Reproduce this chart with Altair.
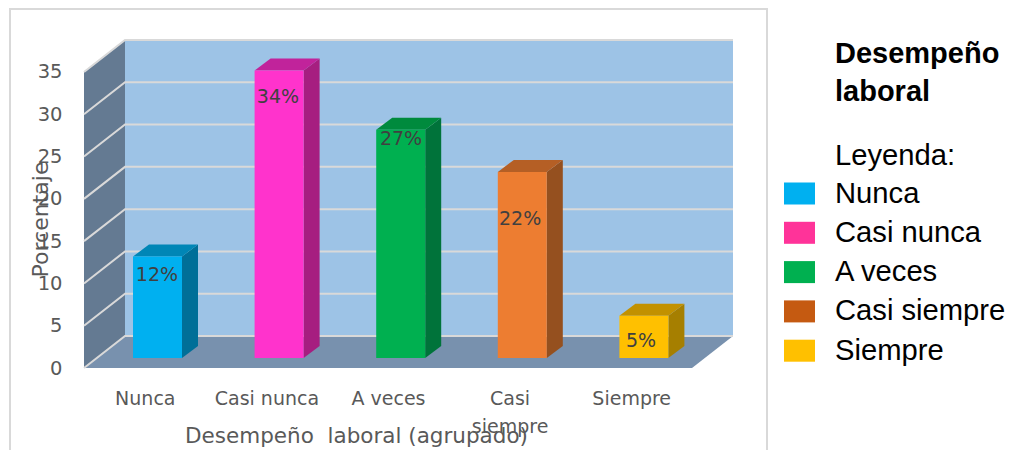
import json
import altair as alt
import pandas as pd

# ---- values ----
categories = ["Nunca", "Casi nunca", "A veces", "Casi siempre", "Siempre"]
axis_labels = ["Nunca", "Casi nunca", "A veces", ["Casi", "siempre"], "Siempre"]
percent = [12, 34, 27, 22, 5]
label_text = ["12%", "34%", "27%", "22%", "5%"]
label_x = [0.600, 1.595, 2.607, 3.586, 4.581]
label_y = [11.0, 32.0, 27.1, 17.6, 3.2]
front_colors = ["#00B0F0", "#FF33CC", "#00B050", "#ED7D31", "#FFC000"]
top_colors = ["#0086B6", "#C1239B", "#008A3D", "#B55F25", "#C29100"]
side_colors = ["#006F98", "#A61E80", "#00733A", "#95501F", "#A67F00"]
legend_colors = ["#00B0F0", "#FF3399", "#00B050", "#C55A11", "#FFC000"]
y_ticks = [0, 5, 10, 15, 20, 25, 30, 35]

# ---- 3-D projection, in data units ----
PX_X, PX_Y = 121.6, 8.46
WALL_DX, WALL_DY = 41 / PX_X, 32 / PX_Y
BAR_LEFT, BAR_W = 49 / PX_X, 49 / PX_X
BAR_DX, BAR_DY = 16 / PX_X, 12 / PX_Y
BAR_BASE = 10 / PX_Y
N = len(categories)
X_MAX, Y_MAX = N + WALL_DX, 35 + WALL_DY

x_scale = alt.Scale(domain=[0, X_MAX], nice=False, zero=False)
y_scale = alt.Scale(domain=[0, Y_MAX], nice=False, zero=False)

label_expr = "%s[round(datum.value - 0.5)]" % json.dumps(axis_labels)
x_axis = alt.Axis(
    values=[i + 0.5 for i in range(N)], labelExpr=label_expr, domain=False, ticks=False, grid=False,
    labelFont="DejaVu Sans", labelFontSize=19, labelColor="#595959", labelPadding=21, labelLineHeight=28,
    labelAngle=0, labelOverlap=False, labelFlush=False, labelBound=False,
    title="Desempeño\u00a0 laboral (agrupado)", titleFont="DejaVu Sans", titleFontSize=21.5, titleFontWeight="normal",
    titleColor="#595959", titleX=272, titleY=74, titleAnchor="middle", titleBaseline="alphabetic")
y_axis = alt.Axis(
    values=y_ticks, domain=False, ticks=False, grid=False, labelFont="DejaVu Sans", labelFontSize=19.5,
    labelColor="#595959", labelPadding=22,
    title="Porcentaje", titleFont="DejaVu Sans", titleFontSize=22, titleFontWeight="normal",
    titleColor="#595959", titleX=-37, titleY=179, titleAngle=-90, titleAnchor="middle", titleBaseline="alphabetic")

X = alt.X("x:Q", scale=x_scale, axis=x_axis)
Y = alt.Y("y:Q", scale=y_scale, axis=y_axis, stack=None)

wall_back = alt.Chart(pd.DataFrame([{"x": WALL_DX, "x2": X_MAX, "y": WALL_DY, "y2": Y_MAX}])).mark_rect(color="#9DC3E6").encode(
    x=X, x2="x2:Q", y=Y, y2="y2:Q")
wall_left = alt.Chart(pd.DataFrame([
    {"x": 0, "y": 0, "y2": 35},
    {"x": WALL_DX, "y": WALL_DY, "y2": Y_MAX}])).mark_area(color="#647A92", opacity=1).encode(x=X, y=Y, y2="y2:Q")
floor = alt.Chart(pd.DataFrame([
    {"x": 0, "y": 0, "y2": 0},
    {"x": WALL_DX, "y": 0, "y2": WALL_DY},
    {"x": N, "y": 0, "y2": WALL_DY},
    {"x": X_MAX, "y": WALL_DY, "y2": WALL_DY}])).mark_area(color="#7891AE", opacity=1).encode(x=X, y=Y, y2="y2:Q")

grid_rows = []
for t in y_ticks:
    grid_rows += [{"t": t, "x": 0, "y": t}, {"t": t, "x": WALL_DX, "y": t + WALL_DY}, {"t": t, "x": X_MAX, "y": t + WALL_DY}]
grid = alt.Chart(pd.DataFrame(grid_rows)).mark_line(color="#D9D9D9", strokeWidth=2).encode(x=X, y=Y, detail="t:N")

front_rows, side_rows, top_rows = [], [], []
for i, (c, v) in enumerate(zip(categories, percent)):
    a = i + BAR_LEFT
    b = a + BAR_W
    base, top = BAR_BASE, BAR_BASE + v
    front_rows.append({"c": c, "x": a, "x2": b, "y": base, "y2": top, "f": front_colors[i]})
    side_rows += [{"c": c, "x": b, "y": base, "y2": top, "f": side_colors[i]},
                  {"c": c, "x": b + BAR_DX, "y": base + BAR_DY, "y2": top + BAR_DY, "f": side_colors[i]}]
    top_rows += [{"c": c, "x": a, "y": top, "y2": top, "f": top_colors[i]},
                 {"c": c, "x": a + BAR_DX, "y": top, "y2": top + BAR_DY, "f": top_colors[i]},
                 {"c": c, "x": b, "y": top, "y2": top + BAR_DY, "f": top_colors[i]},
                 {"c": c, "x": b + BAR_DX, "y": top + BAR_DY, "y2": top + BAR_DY, "f": top_colors[i]}]

FILL = alt.Fill("f:N", scale=None, legend=None)
bar_side = alt.Chart(pd.DataFrame(side_rows)).mark_area(opacity=1).encode(x=X, y=Y, y2="y2:Q", fill=FILL, detail="c:N")
bar_top = alt.Chart(pd.DataFrame(top_rows)).mark_area(opacity=1).encode(x=X, y=Y, y2="y2:Q", fill=FILL, detail="c:N")
bar_front = alt.Chart(pd.DataFrame(front_rows)).mark_rect().encode(x=X, x2="x2:Q", y=Y, y2="y2:Q", fill=FILL)

labels = alt.Chart(pd.DataFrame({"x": label_x, "y": label_y, "t": label_text})).mark_text(
    font="DejaVu Sans", fontSize=19, color="#404040").encode(x=X, y=Y, text="t:N")

# legend, from its own colour scale
legend_layer = alt.Chart(pd.DataFrame({"c": categories, "x": [0.5] * N, "y": [0] * N})).mark_point(
    opacity=0, filled=True).encode(
    x=X, y=Y,
    color=alt.Color("c:N", sort=None, scale=alt.Scale(domain=categories, range=legend_colors), legend=alt.Legend(
        title=None, orient="none", legendX=700, legendY=138, symbolType="M-1,-0.71H1V0.71H-1Z", symbolSize=961,
        symbolOpacity=1, symbolStrokeWidth=0, labelFont="Liberation Sans", labelFontSize=29.2, labelColor="#000000",
        labelOffset=20, rowPadding=8.3, labelLimit=300)),
)

# text beside the legend and the frame, placed in view pixels
side_text = alt.Chart(pd.DataFrame({"t": ["Desempeño", "laboral"], "py": [23, 61]})).mark_text(
    font="Liberation Sans", fontSize=29, fontWeight="bold", color="#000000", align="left", baseline="alphabetic").encode(
    x=alt.value(751), y=alt.Y("py:Q", scale=None), text="t:N")
leyenda = alt.Chart(pd.DataFrame({"t": ["Leyenda:"], "py": [125]})).mark_text(
    font="Liberation Sans", fontSize=29.2, color="#000000", align="left", baseline="alphabetic").encode(
    x=alt.value(751), y=alt.Y("py:Q", scale=None), text="t:N")
frame = alt.Chart(pd.DataFrame({"a": [0]})).mark_rect(fill=None, stroke="#D9D9D9", strokeWidth=2).encode(
    x=alt.value(-74), x2=alt.value(683), y=alt.value(-31), y2=alt.value(440))

chart = alt.layer(frame, wall_back, wall_left, floor, grid, bar_side, bar_top, bar_front, labels,
                  legend_layer, side_text, leyenda).properties(
    width=649, height=328,
    padding={"left": 76, "top": 32, "right": 272, "bottom": 82},
    autosize=alt.AutoSizeParams(type="none"),
    background="white",
).configure_view(stroke=None)

chart.save("out.html", embed_options={"renderer": "svg", "actions": False})
